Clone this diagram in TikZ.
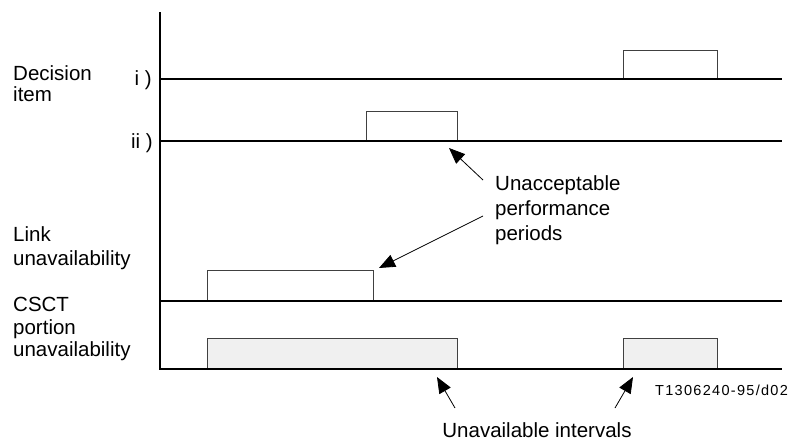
\documentclass[tikz,border=0pt]{standalone}
\usepackage{fontspec}
\setmainfont{Liberation Sans}
\usetikzlibrary{arrows.meta}
\begin{document}
\begin{tikzpicture}[x=1pt,y=-1pt,
  axisline/.style={line width=2pt},
  pulse/.style={draw=black!75,line width=1pt},
  graypulse/.style={pulse,fill=black!6},
  lbl/.style={inner sep=0pt,align=left,font=\fontsize{20.5}{23}\selectfont},
  ptr/.style={line width=0.8pt,-{Triangle[length=16pt,width=13pt]}}]
\useasboundingbox (0,0) rectangle (788,442);
% pulses
\draw[pulse] (623,79) -- (623,50) -- (717,50) -- (717,79);
\draw[pulse] (366,141) -- (366,111) -- (457,111) -- (457,141);
\draw[pulse] (207,301) -- (207,270) -- (373,270) -- (373,301);
\draw[graypulse] (207,368) rectangle (457,338);
\draw[graypulse] (623,368) rectangle (717,338);
% axes
\draw[axisline] (160,12) -- (160,369) -- (782,369);
\draw[axisline] (160,79) -- (782,79);
\draw[axisline] (160,141) -- (782,141);
\draw[axisline] (160,301) -- (782,301);
% labels
\node[lbl,anchor=north west,font=\fontsize{20.5}{21.5}\selectfont] (dec) at (13,65) {Decision\\item};
\node[lbl,anchor=base east] (i) at (152,85) {i )};
\node[lbl,anchor=base east] (ii) at (153,148) {ii )};
\node[lbl,anchor=north west,font=\fontsize{20.5}{24.5}\selectfont] (link) at (13,226) {Link\\unavailability};
\node[lbl,anchor=north west,font=\fontsize{20.5}{22.5}\selectfont] (csct) at (13,297) {CSCT\\portion\\unavailability};
\node[lbl,anchor=north west,font=\fontsize{20.5}{25}\selectfont] (unacc) at (495,175) {Unacceptable\\performance\\periods};
\node[lbl,anchor=base] (unav) at (537,437) {Unavailable intervals};
\node[lbl,anchor=base west,font=\fontsize{14.5}{18}\selectfont\addfontfeature{LetterSpace=9}] (code) at (655,395) {T1306240-95/d02};
% pointers
\coordinate (a1s) at (483,180); \coordinate (a1e) at (449,148);
\coordinate (a2s) at (483,216); \coordinate (a2e) at (379,268);
\coordinate (b1s) at (455,408); \coordinate (b1e) at (437,377);
\coordinate (b2s) at (615,408); \coordinate (b2e) at (633,377);
\draw[ptr] (a1s) -- (a1e);
\draw[ptr] (a2s) -- (a2e);
\draw[ptr] (b1s) -- (b1e);
\draw[ptr] (b2s) -- (b2e);
\end{tikzpicture}
\end{document}
